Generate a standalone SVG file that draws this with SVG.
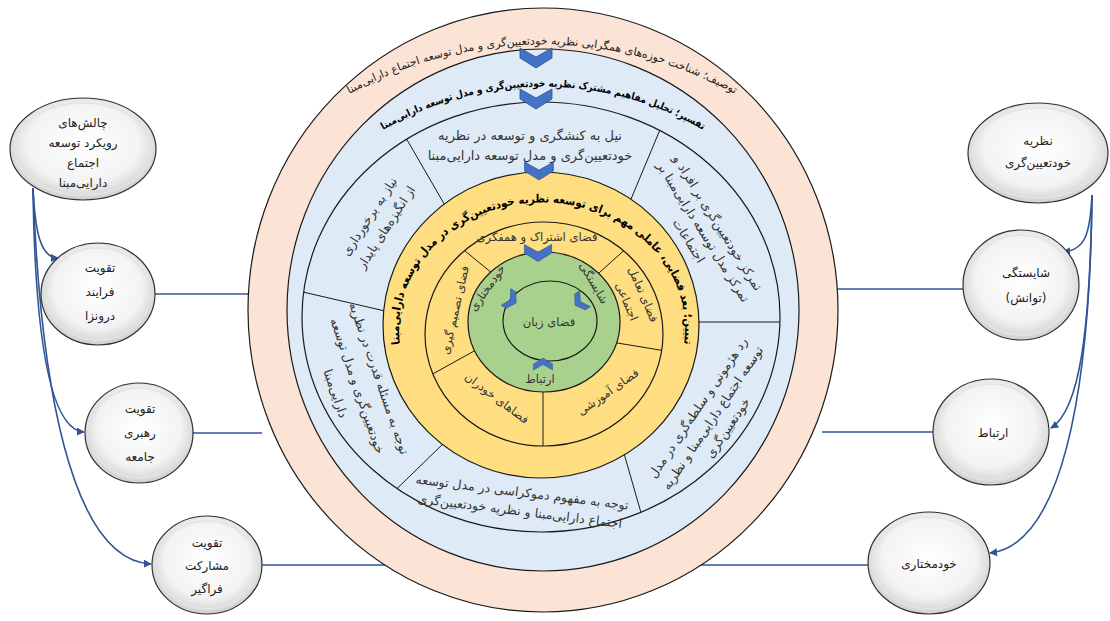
<svg xmlns="http://www.w3.org/2000/svg" width="1110" height="621" viewBox="0 0 1110 621">
<style>
text { font-family: "DejaVu Sans", sans-serif; fill:#222; }
.ring { stroke:#1a1a1a; stroke-width:1.2; }
.peach { fill:#FBE4D5; }
.blue { fill:#DEEBF7; }
.yellow { fill:#FFDE82; }
.green { fill:#A9D18E; }
.div { stroke:#1a1a1a; stroke-width:1; }
.t1 { font-size:11px; fill:#222; }
.t2 { font-family:"DejaVu Sans Condensed","DejaVu Sans",sans-serif; font-size:10px; font-weight:bold; fill:#000; }
.t3 { font-family:"DejaVu Sans Condensed","DejaVu Sans",sans-serif; font-size:11.5px; font-weight:bold; fill:#000; }
.sec { font-size:12.5px; fill:#333; text-anchor:middle; }
.lab { font-size:11.5px; fill:#333; text-anchor:middle; }
.node-o { fill:url(#ng); stroke:#303030; stroke-width:1.2; }
.node-i { fill:none; stroke:#e4e4e4; stroke-width:1.5; }
.nt { font-size:12px; fill:#222; text-anchor:middle; }
.conn { fill:none; stroke:#2F5597; stroke-width:1.6; }
.chev { fill:#4472C4; stroke:#2F528F; stroke-width:0.8; }
</style>
<defs>
<radialGradient id="ng" cx="50%" cy="45%" r="55%">
<stop offset="0" stop-color="#ffffff"/>
<stop offset="0.7" stop-color="#f3f3f3"/>
<stop offset="1" stop-color="#cfcfcf"/>
</radialGradient>
<marker id="arr" viewBox="0 0 10 10" refX="9" refY="5" markerWidth="8" markerHeight="8" orient="auto" markerUnits="userSpaceOnUse">
<path d="M0,0 L10,5 L0,10 z" fill="#2F5597"/>
</marker>
<path id="chev" d="M-16,-10 L0,-1 L16,-10 L16,0 L0,10 L-16,0 Z"/>
<clipPath id="secClip"><ellipse cx="541" cy="317" rx="239" ry="215"/></clipPath>
<clipPath id="yClip"><ellipse cx="544" cy="334" rx="119" ry="112"/></clipPath>
<path id="p1" d="M 285,138 A 400 400 0 0 1 799,138" fill="none"/>
<path id="p2" d="M 339,161 A 317 317 0 0 1 747,161" fill="none"/>
<path id="p3" d="M 412,381 A 143 126 0 1 1 672,381" fill="none"/>
</defs>
<rect width="1110" height="621" fill="#ffffff"/>

<g id="connectors">
<line class="conn" x1="155" y1="294" x2="260" y2="294"/>
<line class="conn" x1="193" y1="433" x2="262" y2="433"/>
<line class="conn" x1="262" y1="565" x2="400" y2="565"/>
<line class="conn" x1="963" y1="289" x2="830" y2="289"/>
<line class="conn" x1="933" y1="432" x2="822" y2="432"/>
<line class="conn" x1="868" y1="565" x2="690" y2="565"/>
<path class="conn" marker-end="url(#arr)" d="M 33,188 C 35,230 40,258 58,258"/>
<path class="conn" marker-end="url(#arr)" d="M 33,188 C 35,340 50,430 84,432"/>
<path class="conn" marker-end="url(#arr)" d="M 33,188 C 40,380 70,560 151,564"/>
<path class="conn" marker-end="url(#arr)" d="M 1092,195 C 1090,235 1085,250 1063,252"/>
<path class="conn" marker-end="url(#arr)" d="M 1092,195 C 1090,330 1080,410 1051,428"/>
<path class="conn" marker-end="url(#arr)" d="M 1092,195 C 1090,400 1060,545 990,553"/>
</g>

<g id="ring-describe">
<ellipse class="peach ring" cx="543" cy="310" rx="295" ry="302"/>
<text class="t1"><textPath href="#p1" startOffset="50%" text-anchor="middle">توصیف؛ شناخت حوزه‌های همگرایی نظریه خودتعیین‌گری و مدل توسعه اجتماع دارایی‌مبنا</textPath></text>
</g>
<g id="ring-interpret">
<ellipse class="blue ring" cx="543" cy="310" rx="256" ry="261"/>
<text class="t2"><textPath href="#p2" startOffset="50%" text-anchor="middle">تفسیر؛ تحلیل مفاهیم مشترک نظریه خودتعیین‌گری و مدل توسعه دارایی‌مبنا</textPath></text>
</g>
<g id="ring-sectors">
<ellipse class="blue ring" cx="541" cy="317" rx="239" ry="215"/>
<g clip-path="url(#secClip)">
<line class="div" x1="395" y1="119" x2="450" y2="214"/>
<line class="div" x1="667" y1="113" x2="626" y2="211"/>
<line class="div" x1="290" y1="289" x2="385" y2="311"/>
<line class="div" x1="690" y1="322" x2="790" y2="322"/>
<line class="div" x1="376" y1="509" x2="447" y2="440"/>
<line class="div" x1="619" y1="436" x2="650" y2="544"/>
</g>
<text class="sec" style="font-size:13px"><tspan x="530" y="140">نیل به کنشگری و توسعه در نظریه</tspan><tspan x="530" y="160">خودتعیین‌گری و مدل توسعه دارایی‌مبنا</tspan></text>
<text class="sec" transform="translate(378,222) rotate(-57)"><tspan x="0" y="-6">نیاز به برخورداری</tspan><tspan x="0" y="14">از انگیزه‌های پایدار</tspan></text>
<text class="sec" transform="translate(703,232) rotate(58)"><tspan x="0" y="-13">تمرکز خودتعیین‌گری بر افراد و</tspan><tspan x="0" y="4">تمرکز مدل توسعه دارایی‌مبنا بر</tspan><tspan x="0" y="21">اجتماعات</tspan></text>
<text class="sec" transform="translate(357,386) rotate(71)"><tspan x="0" y="-19">توجه به مسئله قدرت در نظریه</tspan><tspan x="0" y="4">خودتعیین‌گری و مدل توسعه</tspan><tspan x="0" y="27">دارایی‌مبنا</tspan></text>
<text class="sec" transform="translate(713,418) rotate(-56)"><tspan x="0" y="-14">رد هژمونی و سلطه‌گری در مدل</tspan><tspan x="0" y="4">توسعه اجتماع دارایی‌مبنا و نظریه</tspan><tspan x="0" y="22">خودتعیین‌گری</tspan></text>
<text class="sec" transform="translate(521,502) rotate(7)"><tspan x="0" y="-5.5">توجه به مفهوم دموکراسی در مدل توسعه</tspan><tspan x="0" y="13.5">اجتماع دارایی‌مبنا و نظریه خودتعیین‌گری</tspan></text>
</g>
<g id="ring-explain">
<ellipse class="yellow ring" cx="541" cy="325" rx="158" ry="153"/>
<text class="t3"><textPath href="#p3" startOffset="50%" text-anchor="middle">تبیین؛ بعد فضایی، عاملی مهم برای توسعه نظریه خودتعیین‌گری در مدل توسعه دارایی‌مبنا</textPath></text>
</g>
<g id="ring-spaces">
<ellipse class="yellow ring" cx="544" cy="334" rx="119" ry="112"/>
<g clip-path="url(#yClip)">
<line class="div" x1="448" y1="237" x2="498" y2="278"/>
<line class="div" x1="639" y1="237" x2="590" y2="281"/>
<line class="div" x1="420" y1="381" x2="485" y2="345"/>
<line class="div" x1="605" y1="341" x2="672" y2="352"/>
<line class="div" x1="543" y1="385" x2="543" y2="460"/>
</g>
<text class="lab" x="537" y="241">فضای اشتراک و همفکری</text>
<text class="lab" transform="translate(455,310) rotate(-77)" y="4">فضای تصمیم گیری</text>
<text class="lab" transform="translate(497,398) rotate(37)" y="4">فضاهای خودران</text>
<text class="lab" transform="translate(608,392) rotate(-35)" y="4">فضای آموزشی</text>
<text class="lab" transform="translate(635,298) rotate(67)"><tspan x="0" y="-5">فضای تعامل</tspan><tspan x="0" y="13">اجتماعی</tspan></text>
</g>
<g id="core">
<ellipse class="green ring" cx="544" cy="322" rx="76" ry="70"/>
<ellipse class="green ring" cx="550" cy="321" rx="47" ry="40"/>
<text class="lab" transform="translate(487,288) rotate(-55)" y="4">خودمختاری</text>
<text class="lab" transform="translate(594,283) rotate(60)" y="4">شایستگی</text>
<text class="lab" x="540" y="383">ارتباط</text>
<text class="lab" x="549" y="326">فضای زبان</text>
</g>
<g id="chevrons">
<use href="#chev" class="chev" transform="translate(536,58)"/>
<use href="#chev" class="chev" transform="translate(536,99)"/>
<use href="#chev" class="chev" transform="translate(539,171) scale(0.9)"/>
<use href="#chev" class="chev" transform="translate(538,253) scale(0.85)"/>
<use href="#chev" class="chev" transform="translate(511,300) rotate(-60) scale(0.6)"/>
<use href="#chev" class="chev" transform="translate(580,302) rotate(56) scale(0.6)"/>
<use href="#chev" class="chev" transform="translate(543,364) rotate(180) scale(0.6)"/>
</g>

<g id="node-challenges">
<ellipse class="node-o" cx="83" cy="149" rx="73" ry="51"/>
<ellipse class="node-i" cx="83" cy="149" rx="68" ry="46"/>
<text class="nt"><tspan x="83" y="127">چالش‌های</tspan><tspan x="83" y="147">رویکرد توسعه</tspan><tspan x="83" y="167">اجتماع</tspan><tspan x="83" y="187">دارایی‌مبنا</tspan></text>
</g>
<g id="node-endogenous">
<ellipse class="node-o" cx="98" cy="294" rx="57" ry="51"/>
<ellipse class="node-i" cx="98" cy="294" rx="52" ry="46"/>
<text class="nt"><tspan x="100" y="272">تقویت</tspan><tspan x="100" y="296">فرایند</tspan><tspan x="100" y="320">درونزا</tspan></text>
</g>
<g id="node-leadership">
<ellipse class="node-o" cx="139" cy="433" rx="54" ry="50"/>
<ellipse class="node-i" cx="139" cy="433" rx="49" ry="45"/>
<text class="nt"><tspan x="140" y="413">تقویت</tspan><tspan x="140" y="437">رهبری</tspan><tspan x="140" y="461">جامعه</tspan></text>
</g>
<g id="node-participation">
<ellipse class="node-o" cx="207" cy="565" rx="55" ry="49"/>
<ellipse class="node-i" cx="207" cy="565" rx="50" ry="44"/>
<text class="nt"><tspan x="207" y="547">تقویت</tspan><tspan x="207" y="570">مشارکت</tspan><tspan x="207" y="593">فراگیر</tspan></text>
</g>
<g id="node-sdt">
<ellipse class="node-o" cx="1038" cy="153" rx="70" ry="50"/>
<ellipse class="node-i" cx="1038" cy="153" rx="65" ry="45"/>
<text class="nt"><tspan x="1038" y="145">نظریه</tspan><tspan x="1038" y="167">خودتعیین‌گری</tspan></text>
</g>
<g id="node-competence">
<ellipse class="node-o" cx="1021" cy="285" rx="58" ry="55"/>
<ellipse class="node-i" cx="1021" cy="285" rx="53" ry="50"/>
<text class="nt"><tspan x="1026" y="277">شایستگی</tspan><tspan x="1026" y="302">(توانش)</tspan></text>
</g>
<g id="node-relatedness">
<ellipse class="node-o" cx="991" cy="432" rx="58" ry="53"/>
<ellipse class="node-i" cx="991" cy="432" rx="53" ry="48"/>
<text class="nt" x="993" y="437">ارتباط</text>
</g>
<g id="node-autonomy">
<ellipse class="node-o" cx="929" cy="563" rx="61" ry="51"/>
<ellipse class="node-i" cx="929" cy="563" rx="56" ry="46"/>
<text class="nt" x="929" y="568">خودمختاری</text>
</g>
</svg>
